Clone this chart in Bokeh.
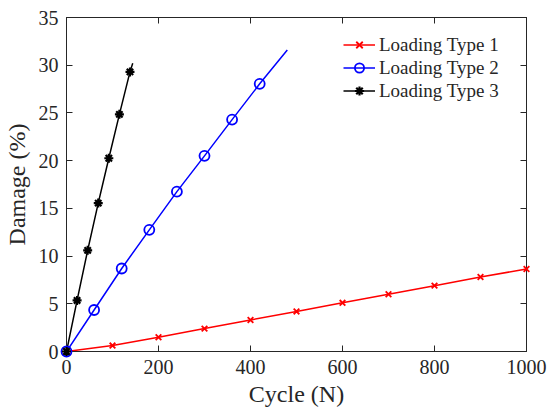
from bokeh.plotting import figure
from bokeh.models import LinearAxis, FixedTicker, Range1d, Legend, LegendItem, CustomJSTickFormatter
from bokeh.embed import file_html
from bokeh.resources import INLINE

# ---- data ----
cycles1 = [0, 100, 200, 300, 400, 500, 600, 700, 800, 900, 1000]
damage1 = [0, 0.62, 1.5, 2.4, 3.3, 4.2, 5.1, 6.0, 6.9, 7.8, 8.65]

cycles2 = [0, 60, 120, 180, 240, 300, 360, 420, 480]
damage2 = [0, 4.35, 8.7, 12.75, 16.75, 20.5, 24.3, 28.05, 31.6]
n_markers2 = 8

cycles3 = [0, 23, 46, 69, 92, 115, 138, 144]
damage3 = [0, 5.35, 10.6, 15.55, 20.25, 24.85, 29.3, 30.2]
n_markers3 = 7

x_ticks = [0, 200, 400, 600, 800, 1000]
y_ticks = [0, 5, 10, 15, 20, 25, 30, 35]
series_names = ["Loading Type 1", "Loading Type 2", "Loading Type 3"]

FONT = "Liberation Serif"
AX = "#262626"

p = figure(width=550, height=412, output_backend="svg", toolbar_location=None,
           x_range=Range1d(0, 1000), y_range=Range1d(0, 35),
           min_border_left=65, min_border_right=24, min_border_top=17, min_border_bottom=61,
           x_axis_label="Cycle (N)", y_axis_label="Damage (%)")
p.xgrid.visible = False
p.ygrid.visible = False
p.outline_line_color = AX
p.outline_line_width = 1
p.background_fill_color = "white"
p.border_fill_color = "white"

def style_axis(ax, ticks, show_labels=True):
    ax.ticker = FixedTicker(ticks=ticks)
    ax.minor_tick_line_color = None
    ax.major_tick_in = 6
    ax.major_tick_out = 0
    ax.axis_line_color = AX
    ax.major_tick_line_color = AX
    ax.major_label_text_font = FONT
    ax.major_label_text_color = AX
    ax.axis_label_text_font = FONT
    ax.axis_label_text_color = AX
    ax.axis_label_text_font_style = "normal"
    ax.axis_label_text_font_size = "24px"
    ax.major_label_text_font_size = "20px"
    if not show_labels:
        ax.formatter = CustomJSTickFormatter(code="return ''")
        ax.major_label_standoff = 0

style_axis(p.xaxis[0], x_ticks)
style_axis(p.yaxis[0], y_ticks)
p.xaxis[0].major_label_standoff = 8
p.xaxis[0].axis_label_standoff = 4
p.yaxis[0].major_label_standoff = 8
p.yaxis[0].axis_label_standoff = 6

top_ax = LinearAxis()
style_axis(top_ax, x_ticks, show_labels=False)
right_ax = LinearAxis()
style_axis(right_ax, y_ticks, show_labels=False)
p.add_layout(top_ax, "above")
p.add_layout(right_ax, "right")

# series 1
l1 = p.line(cycles1, damage1, line_color="red", line_width=1.5)
m1 = p.scatter(cycles1, damage1, marker="x", size=8, line_color="red", line_width=1.8,
               level="overlay")
# series 2
l2 = p.line(cycles2, damage2, line_color="blue", line_width=1.5)
m2 = p.scatter(cycles2[:n_markers2], damage2[:n_markers2], marker="circle", size=10,
               line_color="blue", fill_color=None, line_width=1.8, level="overlay")
# series 3
l3 = p.line(cycles3, damage3, line_color="black", line_width=1.5)
m3 = p.scatter(cycles3[:n_markers3], damage3[:n_markers3], marker="asterisk", size=9,
               line_color="black", line_width=2.2, level="overlay")

legend = Legend(items=[LegendItem(label=series_names[0], renderers=[l1, m1]),
                       LegendItem(label=series_names[1], renderers=[l2, m2]),
                       LegendItem(label=series_names[2], renderers=[l3, m3])],
                location=(269, 241), margin=0, padding=8, spacing=0,
                glyph_width=32, glyph_height=23, label_height=23, label_standoff=4,
                label_text_font=FONT, label_text_font_size="19px", label_text_color=AX,
                border_line_alpha=0, background_fill_alpha=1)
p.add_layout(legend, "center")

open("out.html", "w").write(file_html(p, INLINE))
